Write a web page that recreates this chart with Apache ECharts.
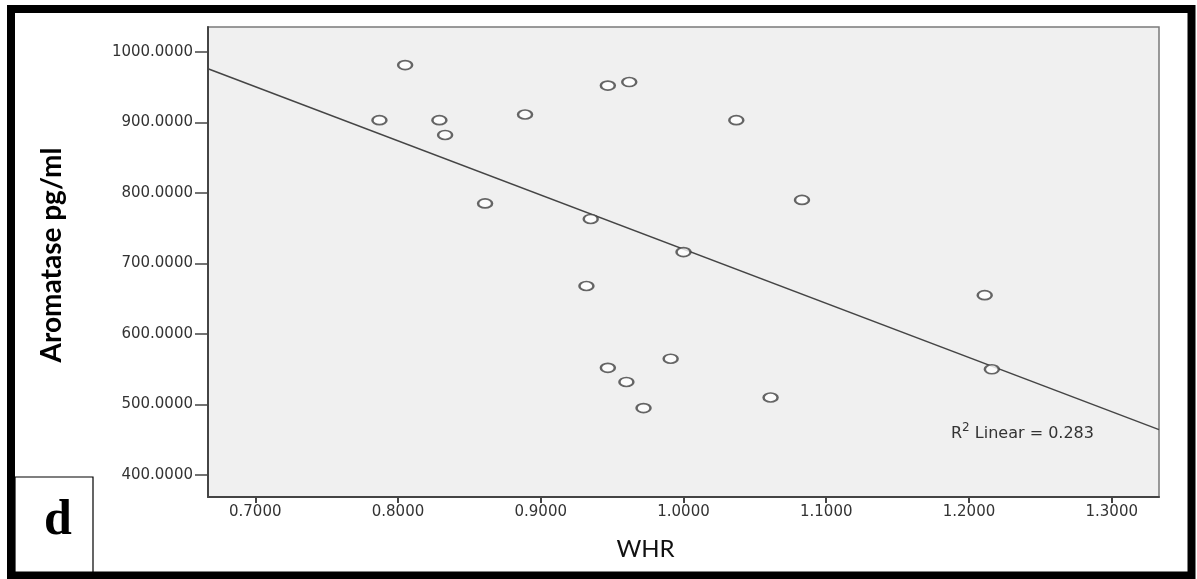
<!DOCTYPE html>
<html>
<head>
<meta charset="utf-8">
<title>Aromatase vs WHR</title>
<script src="https://cdn.jsdelivr.net/npm/echarts@6/dist/echarts.min.js"></script>
<style>
  html, body { margin: 0; padding: 0; background: #ffffff; }
  #chart { width: 1197px; height: 579px; }
</style>
</head>
<body>
<div id="chart"></div>
<script>
// Waist-to-hip ratio of each subject
const whr = [0.787, 0.805, 0.829, 0.833, 0.861, 0.889, 0.932, 0.935, 0.947, 0.962,
             0.947, 0.960, 0.972, 0.991, 1.000, 1.037, 1.061, 1.083, 1.211, 1.216];
// Serum aromatase (pg/ml) of the same subjects
const aromatase = [903, 981, 903, 882, 785, 911, 668, 763, 952, 957,
                   552, 532, 495, 565, 716, 903, 510, 790, 655, 550];

const xTicks = [0.7, 0.8, 0.9, 1.0, 1.1, 1.2, 1.3];
const yTicks = [400, 500, 600, 700, 800, 900, 1000];
const xRange = [0.6669, 1.3331];
const yRange = [369, 1035];
const fitStat = ' Linear = 0.283';
const panelLetter = 'd';

// Ordinary least-squares fit of aromatase on WHR
function linearFit(xs, ys) {
  const n = xs.length;
  const mx = xs.reduce((a, b) => a + b, 0) / n;
  const my = ys.reduce((a, b) => a + b, 0) / n;
  let sxy = 0, sxx = 0;
  for (let i = 0; i < n; i++) {
    sxy += (xs[i] - mx) * (ys[i] - my);
    sxx += (xs[i] - mx) * (xs[i] - mx);
  }
  const slope = sxy / sxx;
  return { slope, intercept: my - slope * mx };
}
const fit = linearFit(whr, aromatase);
const fitLine = xRange.map(x => [x, fit.intercept + fit.slope * x]);
const points = whr.map((x, i) => [x, aromatase[i]]);

const tickFont = { fontFamily: 'DejaVu Sans', fontSize: 15, color: '#333' };

const chart = echarts.init(document.getElementById('chart'), null, { renderer: 'canvas' });
chart.setOption({
  animation: false,
  backgroundColor: '#ffffff',
  grid: {
    left: 208, top: 27, width: 951, height: 470,
    show: true, backgroundColor: '#f0f0f0',
    borderColor: '#7a7a7a', borderWidth: 1.5
  },
  xAxis: {
    type: 'value', min: xRange[0], max: xRange[1],
    name: 'WHR', nameLocation: 'middle', nameGap: 40,
    nameTextStyle: { fontFamily: 'Lato', fontSize: 24, color: '#111', padding: [0, 76, 0, 0] },
    axisLine: { show: true, lineStyle: { color: '#444', width: 2 } },
    axisTick: { show: true, customValues: xTicks, length: 6, lineStyle: { color: '#444', width: 2 } },
    axisLabel: Object.assign({ customValues: xTicks, margin: 8, formatter: v => v.toFixed(4) }, tickFont),
    splitLine: { show: false }
  },
  yAxis: {
    type: 'value', min: yRange[0], max: yRange[1],
    name: 'Aromatase pg/ml', nameLocation: 'middle', nameGap: 142,
    nameTextStyle: { fontFamily: 'Lato', fontWeight: 'bold', fontSize: 28, color: '#000', padding: [0, 0, 0, 14] },
    axisLine: { show: true, lineStyle: { color: '#444', width: 2 } },
    axisTick: { show: true, customValues: yTicks, length: 13, lineStyle: { color: '#444', width: 1.5 } },
    axisLabel: Object.assign({ customValues: yTicks, margin: 15, formatter: v => v.toFixed(4) }, tickFont),
    splitLine: { show: false }
  },
  series: [
    {
      type: 'line', data: fitLine, showSymbol: false, silent: true, z: 2,
      lineStyle: { color: '#454545', width: 1.5 }
    },
    {
      type: 'scatter', data: points, symbol: 'emptyCircle', symbolSize: [14, 9], z: 3,
      itemStyle: { color: '#404040', borderWidth: 2 }
    }
  ],
  graphic: [
    {
      type: 'text', left: 951, top: 422, z: 10,
      style: {
        text: '{a|R}{s|2}{a|' + fitStat + '}',
        rich: {
          a: { fontFamily: 'DejaVu Sans', fontSize: 16, lineHeight: 20, fill: '#333', verticalAlign: 'bottom' },
          s: { fontFamily: 'DejaVu Sans', fontSize: 12, lineHeight: 20, fill: '#333', verticalAlign: 'top' }
        }
      }
    },
    {
      type: 'rect', z: 10,
      shape: { x: 15, y: 477, width: 78, height: 100 },
      style: { fill: '#ffffff', stroke: '#000', lineWidth: 1.2 }
    },
    {
      type: 'text', z: 11, x: 58, y: 521,
      style: { text: panelLetter, fontFamily: 'Liberation Serif', fontWeight: 'bold', fontSize: 50,
               fill: '#000', align: 'center', verticalAlign: 'middle' }
    },
    {
      type: 'rect', z: 20,
      shape: { x: 11, y: 9, width: 1180.5, height: 566.5 },
      style: { fill: 'none', stroke: '#000', lineWidth: 8 }
    }
  ]
});
</script>
</body>
</html>
